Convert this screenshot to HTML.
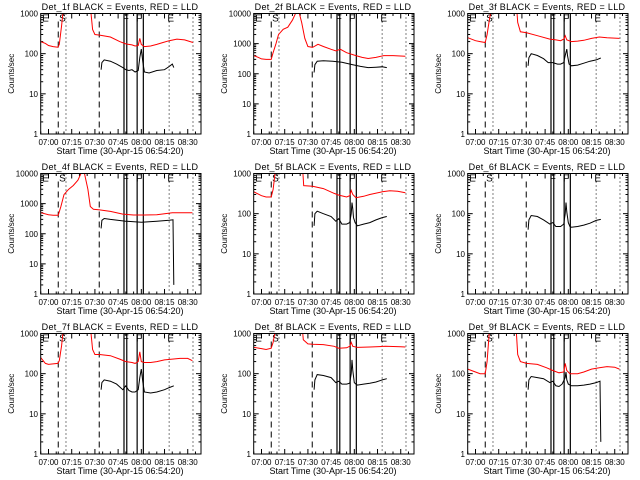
<!DOCTYPE html>
<html><head><meta charset="utf-8"><style>
body{margin:0;background:#fff;width:640px;height:480px;overflow:hidden}
svg{display:block}
text{font-family:"Liberation Sans",sans-serif;fill:#000}
</style></head><body>
<svg id="chart" width="640" height="480" viewBox="0 0 640 480" xmlns="http://www.w3.org/2000/svg"></svg>
<script>
const detNames = ["1f","2f","3f","4f","5f","6f","7f","8f","9f"];
const yMaxes = [1000,10000,1000,10000,1000,1000,1000,1000,1000];
const xTickLabels = ["07:00","07:15","07:30","07:45","08:00","08:15","08:30"];
const xTickMinutes = [0,15,30,45,60,75,90];
const dashedEvents = [6.3,32.8];
const solidEvents = [48.8,50.6,57.3,61.3];
const dottedEvents = [11.3,78,93.4];
const eventLetters = ["E","S","F","F","E"];
const eventLetterMinutes = [-2,9,50,58.5,79];

const red1T=[-5,-2,0,3,6,7,8.5,9.5,26,27.3,28.5,30,33,40,46,50,54,56,58,59,60,62,66,70,74,78,83,88,93.4];
const red1V=[200,180,160,150,145,170,500,1200,5000,1200,400,300,290,260,200,175,165,155,160,240,170,150,155,170,190,210,230,220,190];
const blk1T=[34,34.5,36,40,44,48,50,52,54,56,58,59,60,61,62,65,70,75,78,80,81];
const blk1V=[40,60,70,65,55,45,40,38,40,35,38,80,130,60,35,33,38,40,48,55,45];

const red2T=[-5,-2,0,3,6.3,7.5,9.4,11,14,17,20,23.6,26,28,30,33,36.5,40,45,48,51,55,61,65,69,74,79,85,93];
const red2V=[400,350,310,300,300,500,1000,2000,3000,3500,6000,15000,5000,1500,800,750,950,800,650,580,650,500,400,350,320,350,400,400,380];
const blk2T=[34,34.5,36,40,46,52,59,64,69,74,78,81];
const blk2V=[110,200,260,270,260,240,200,175,160,165,170,160];

const red3T=[-5,0,3,6.3,7.5,9,10,26,27.3,29,33,40,48,52,55,57,58,59,62,66,70,75,80,85,93];
const red3V=[250,210,200,190,300,700,1200,3000,600,350,330,280,230,220,210,230,280,220,200,205,215,240,260,250,240];
const blk3T=[34,34.5,36,40,44,47,50,53,55,57,58,59,59.5,60.5,62,66,70,74,78,81];
const blk3V=[50,80,100,90,75,60,60,55,55,60,90,130,90,55,50,52,58,65,70,78];

const red4T=[-5,0,3,6.3,8,10,13,16,19,21,22,25.5,27,29,33,40,48,55,62,70,80,93];
const red4V=[500,430,410,410,800,2000,3000,4000,6000,10000,20000,3000,800,650,620,550,450,420,420,430,500,500];
const blk4T=[34,34.5,36,40,50,60,70,78,80.5,81];
const blk4V=[150,280,320,300,260,240,260,280,290,2];

const red5T=[-5,0,3,6.3,7.5,9,26,27.3,33,40,47,50,55,57,58,59,61,66,70,78,83,88,93];
const red5V=[350,280,260,260,400,1200,3000,500,480,420,320,290,260,280,380,300,250,270,300,350,370,360,330];
const blk5T=[34,34.5,36,40,45,48,50,52,55,57,58,58.5,59,59.5,60.5,62,66,70,74,78,81];
const blk5V=[50,100,115,100,85,65,75,55,55,60,100,190,130,80,60,50,55,60,70,80,85];

const red6T=[];
const red6V=[];
const blk6T=[34,34.5,36,40,44,48,50,52,55,57,58,58.5,59,60,61,62,66,70,74,78,81];
const blk6V=[40,70,90,85,70,55,60,48,48,55,100,190,110,60,48,46,48,52,58,68,72];

const red7T=[-5,-2,0,3,6,7,8.5,9.5,26,27.3,28.5,30,33,40,46,50,54,56,58,59,60,62,66,70,75,80,85,90,93];
const red7V=[250,180,170,175,180,210,500,1200,5000,1200,400,300,300,280,230,200,190,180,200,350,200,190,190,200,220,230,240,240,210];
const blk7T=[34,34.5,36,40,44,48,50,52,54,56,58,59,60,61,62,66,70,75,78,81];
const blk7V=[40,60,70,65,55,40,50,38,35,35,40,80,130,60,35,33,35,40,45,50];

const red8T=[-5,0,3,6.3,7.5,9,26,27,30,33,40,47,50,55,57,58,59,62,70,80,90,93];
const red8V=[450,420,400,430,600,1200,2000,700,550,540,530,480,430,440,480,600,480,450,460,480,470,460];
const blk8T=[34,34.5,36,40,45,48,50,52,55,57,58,58.5,59,60,61,62,66,70,74,78,81];
const blk8V=[40,70,95,90,80,60,65,55,55,58,100,220,120,60,55,52,55,58,62,70,75];

const red9T=[-5,0,3,6.3,7.5,9,26,27.3,29,33,40,46,50,54,57,58,59,61,66,70,75,80,85,90,93];
const red9V=[130,110,100,100,200,1200,2000,300,200,180,170,140,120,105,110,180,120,100,100,110,130,140,150,145,130];
const blk9T=[34,34.5,36,40,44,48,50,52,54,56,58,58.5,59,60,62,66,70,74,78,80.5,81];
const blk9V=[40,70,85,80,75,60,65,50,48,55,80,110,70,55,50,50,52,55,60,65,2];

const redT=[red1T,red2T,red3T,red4T,red5T,red6T,red7T,red8T,red9T];
const redV=[red1V,red2V,red3V,red4V,red5V,red6V,red7V,red8V,red9V];
const blkT=[blk1T,blk2T,blk3T,blk4T,blk5T,blk6T,blk7T,blk8T,blk9T];
const blkV=[blk1V,blk2V,blk3V,blk4V,blk5V,blk6V,blk7V,blk8V,blk9V];

const NS="http://www.w3.org/2000/svg";
const svg=document.getElementById('chart');
const L=40.7,R=201,T=13.5,B=134;
function mk(tag,attrs,parent){const e=document.createElementNS(NS,tag);for(const k in attrs)e.setAttribute(k,attrs[k]);parent.appendChild(e);return e;}

for(let p=0;p<9;p++){
  const ox=[0,213,427][p%3], oy=[0,160,320][Math.floor(p/3)];
  const g=mk('g',{transform:`translate(${ox},${oy})`},svg);
  
  
  const ymax=yMaxes[p], dec=Math.log10(ymax);
  const xs=t=>48.5+t*1.547;
  const ys=v=>B-(Math.log10(Math.max(v,0.5)))/dec*(B-T);
  const cid='clip'+p;
  const cp=mk('clipPath',{id:cid},g);mk('rect',{x:L,y:T,width:R-L,height:B-T},cp);
  const tt=mk('text',{x:120,y:10,'font-size':9,'text-anchor':'middle','letter-spacing':'0.3'},g);
  tt.textContent='Det_'+detNames[p]+' BLACK = Events, RED = LLD';
  
  
  for(let d=0;d<=dec;d++){
    const yt=mk('text',{x:38,y:ys(Math.pow(10,d))+3,'font-size':8,'text-anchor':'end'},g);
    yt.textContent=String(Math.pow(10,d));
    
    
    for(const side of [L,R]){
      const dir=side===L?1:-1;
      mk('line',{x1:side,x2:side+dir*5,y1:ys(Math.pow(10,d)),y2:ys(Math.pow(10,d)),stroke:'#000','stroke-width':1},g);
      if(d<dec)for(let m=2;m<10;m++){const yy=ys(m*Math.pow(10,d));mk('line',{x1:side,x2:side+dir*2.5,y1:yy,y2:yy,stroke:'#000','stroke-width':1},g);}
    }
  }
  const yl=mk('text',{x:0,y:0,'font-size':8,'text-anchor':'middle',transform:`translate(14,${(T+B)/2}) rotate(-90)`},g);
  yl.textContent='Counts/sec';
  
  
  for(let i=0;i<xTickLabels.length;i++){
    const x=xs(xTickMinutes[i]);
    const xt=mk('text',{x:x,y:145,'font-size':8,'text-anchor':'middle'},g);
    xt.textContent=xTickLabels[i];
    
    
    mk('line',{x1:x,x2:x,y1:B,y2:B-5,stroke:'#000'},g);
    mk('line',{x1:x,x2:x,y1:T,y2:T+5,stroke:'#000'},g);
    for(let m=1;m<3;m++){const xm=xs(xTickMinutes[i]+m*5);if(xm<R){mk('line',{x1:xm,x2:xm,y1:B,y2:B-2.5,stroke:'#000'},g);mk('line',{x1:xm,x2:xm,y1:T,y2:T+2.5,stroke:'#000'},g);}}
  }
  const xm0=xs(-5);mk('line',{x1:xm0,x2:xm0,y1:B,y2:B-2.5,stroke:'#000'},g);
  const xl=mk('text',{x:120,y:154,'font-size':9,'text-anchor':'middle'},g);
  xl.textContent='Start Time (30-Apr-15 06:54:20)';
  
  
  for(const t of dashedEvents){const l=mk('line',{x1:xs(t),x2:xs(t),y1:T+8,y2:B,stroke:'#000','stroke-dasharray':'6,4'},g);}
  for(const t of solidEvents){const l=mk('line',{x1:xs(t),x2:xs(t),y1:T,y2:B,stroke:'#000','stroke-width':1.2},g);}
  for(const t of dottedEvents){const l=mk('line',{x1:xs(t),x2:xs(t),y1:T,y2:B,stroke:'#000','stroke-dasharray':'1,3'},g);}
  for(let i=0;i<eventLetters.length;i++){
    const et=mk('text',{x:xs(eventLetterMinutes[i]),y:T+8,'font-size':10,'text-anchor':'middle'},g);
    et.textContent=eventLetters[i];
    
    
  }
  const series=[[redT[p],redV[p],'#ff0000','lld-red-line'],[blkT[p],blkV[p],'#000','events-black-line']];
  for(const [ts,vs,col,nm] of series){
    if(!ts.length)continue;
    let d='';for(let i=0;i<ts.length;i++)d+=(i?'L':'M')+xs(ts[i]).toFixed(1)+','+ys(vs[i]).toFixed(1);
    const pl=mk('path',{d:d,fill:'none',stroke:col,'stroke-width':1,'clip-path':`url(#${cid})`},g);
    
    
  }
  const box=mk('rect',{x:L,y:T,width:R-L,height:B-T,fill:'none',stroke:'#000','stroke-width':1},g);
  
  
}
</script>
</body></html>
